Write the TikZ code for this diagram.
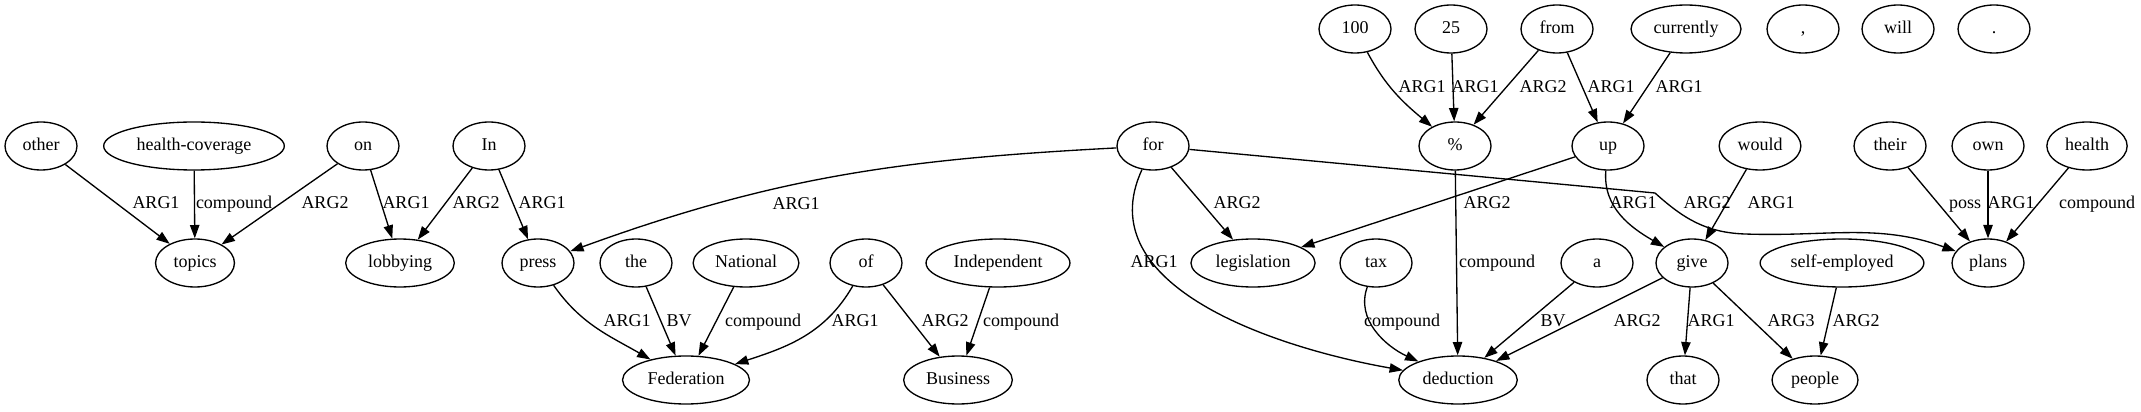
\documentclass[tikz,border=0pt]{standalone}
\usepackage{fontspec}
\setmainfont{Liberation Serif}
\usepackage{tikz}
\usetikzlibrary{arrows.meta,shapes.geometric}
\tikzset{
  wordnode/.style={draw,ellipse,line width=1pt,minimum width=54pt,minimum height=36pt,inner xsep=4.8pt,inner ysep=2pt,text height=9.5pt,text depth=3pt,font=\fontsize{13.5}{16}\selectfont},
  relarrow/.style={-{Triangle[length=10pt,width=7pt]},line width=1pt},
  rellabel/.style={inner sep=0pt,text height=9.5pt,text depth=3pt,font=\fontsize{13.5}{16}\selectfont}
}

\begin{document}
\begin{tikzpicture}[x=0.75pt,y=0.75pt]
\useasboundingbox (0,0) rectangle (2141,411);
\node[wordnode] (n100) at (1355,382) {100};
\node[wordnode] (n25) at (1451,382) {25};
\node[wordnode] (from) at (1557,382) {from};
\node[wordnode] (currently) at (1686,382) {currently};
\node[wordnode] (comma) at (1803,382) {,};
\node[wordnode] (will) at (1898,382) {will};
\node[wordnode] (stop) at (1994,382) {.};

\node[wordnode] (other) at (41,265) {other};
\node[wordnode] (healthcov) at (194,265) {health-coverage};
\node[wordnode] (on) at (363,265) {on};
\node[wordnode] (In) at (489,265) {In};
\node[wordnode] (for) at (1153,265) {for};
\node[wordnode] (pct) at (1455,265) {\%};
\node[wordnode] (up) at (1608,265) {up};
\node[wordnode] (would) at (1760,265) {would};
\node[wordnode] (their) at (1890,265) {their};
\node[wordnode] (own) at (1988,265) {own};
\node[wordnode] (health) at (2087,265) {health};

\node[wordnode] (topics) at (195,148) {topics};
\node[wordnode] (lobbying) at (400,148) {lobbying};
\node[wordnode] (press) at (538,148) {press};
\node[wordnode] (the) at (636,148) {the};
\node[wordnode] (National) at (746,148) {National};
\node[wordnode] (of) at (866,148) {of};
\node[wordnode] (Independent) at (998,148) {Independent};
\node[wordnode] (legislation) at (1253,148) {legislation};
\node[wordnode] (tax) at (1376,148) {tax};
\node[wordnode] (a) at (1597,148) {a};
\node[wordnode] (give) at (1692,148) {give};
\node[wordnode] (selfemp) at (1842,148) {self-employed};
\node[wordnode] (plans) at (1988,148) {plans};

\node[wordnode] (Federation) at (686,31) {Federation};
\node[wordnode] (Business) at (958,31) {Business};
\node[wordnode] (deduction) at (1458,31) {deduction};
\node[wordnode] (that) at (1683,31) {that};
\node[wordnode] (people) at (1815,31) {people};

\draw[relarrow] (other) -- (topics);
\draw[relarrow] (healthcov) -- (topics);
\draw[relarrow] (on) -- (topics);
\draw[relarrow] (on) -- (lobbying);
\draw[relarrow] (In) -- (lobbying);
\draw[relarrow] (In) -- (press);
\draw[relarrow] (for) to[out=183,in=20] (press);
\draw[relarrow] (press) to[out=-55,in=150] (Federation);
\draw[relarrow] (the) -- (Federation);
\draw[relarrow] (National) -- (Federation);
\draw[relarrow] (of) to[out=-120,in=18] (Federation);
\draw[relarrow] (of) -- (Business);
\draw[relarrow] (Independent) -- (Business);
\draw[relarrow] (n100) to[out=-62,in=140] (pct);
\draw[relarrow] (n25) -- (pct);
\draw[relarrow] (from) -- (pct);
\draw[relarrow] (from) -- (up);
\draw[relarrow] (currently) -- (up);
\draw[relarrow] (for) -- (legislation);
\draw[relarrow] (for) to[out=245,in=170] (deduction);
\draw[relarrow] (for) -- (1655,218) to[out=-42,in=178] (1745,177) to[out=-2,in=160] (plans);
\draw[relarrow] (pct) -- (deduction);
\draw[relarrow] (up) -- (legislation);
\draw[relarrow] (up) to[out=-95,in=150] (give);
\draw[relarrow] (would) -- (give);
\draw[relarrow] (their) -- (plans);
\draw[relarrow] (own) -- (plans);
\draw[relarrow] (health) -- (plans);
\draw[relarrow] (tax) to[out=-110,in=155] (deduction);
\draw[relarrow] (a) -- (deduction);
\draw[relarrow] (give) -- (deduction);
\draw[relarrow] (give) -- (that);
\draw[relarrow] (give) -- (people);
\draw[relarrow] (selfemp) -- (people);

\node[rellabel] (l01) at (156,207) {ARG1};
\node[rellabel] (l02) at (234,207) {compound};
\node[rellabel] (l03) at (325,207) {ARG2};
\node[rellabel] (l04) at (406,207) {ARG1};
\node[rellabel] (l05) at (476,207) {ARG2};
\node[rellabel] (l06) at (542,207) {ARG1};
\node[rellabel] (l07) at (796,206) {ARG1};
\node[rellabel] (l08) at (627,89) {ARG1};
\node[rellabel] (l09) at (679,89) {BV};
\node[rellabel] (l10) at (763,89) {compound};
\node[rellabel] (l11) at (855,89) {ARG1};
\node[rellabel] (l12) at (945,89) {ARG2};
\node[rellabel] (l13) at (1021,89) {compound};
\node[rellabel] (l14) at (1422,323) {ARG1};
\node[rellabel] (l15) at (1475,323) {ARG1};
\node[rellabel] (l16) at (1543,323) {ARG2};
\node[rellabel] (l17) at (1611,323) {ARG1};
\node[rellabel] (l18) at (1679,323) {ARG1};
\node[rellabel] (l19) at (1237,207) {ARG2};
\node[rellabel] (l20) at (1154,148) {ARG1};
\node[rellabel] (l21) at (1487,207) {ARG2};
\node[rellabel] (l22) at (1497,148) {compound};
\node[rellabel] (l23) at (1633,207) {ARG1};
\node[rellabel] (l24) at (1707,207) {ARG2};
\node[rellabel] (l25) at (1771,207) {ARG1};
\node[rellabel] (l26) at (1965,207) {poss};
\node[rellabel] (l27) at (2011,207) {ARG1};
\node[rellabel] (l28) at (2097,207) {compound};
\node[rellabel] (l29) at (1637,89) {ARG2};
\node[rellabel] (l30) at (1711,89) {ARG1};
\node[rellabel] (l31) at (1791,89) {ARG3};
\node[rellabel] (l32) at (1856,89) {ARG2};
\node[rellabel] (l33) at (1402,89) {compound};
\node[rellabel] (l34) at (1553,89) {BV};
\end{tikzpicture}
\end{document}
